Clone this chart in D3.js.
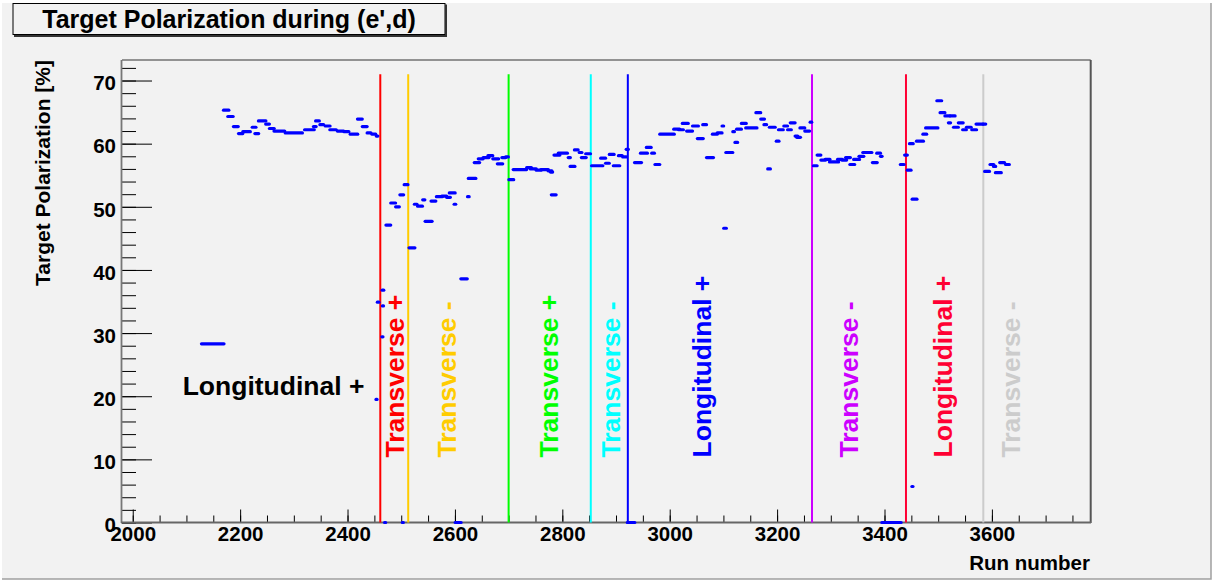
<!DOCTYPE html>
<html>
<head>
<meta charset="utf-8">
<script src="https://cdn.jsdelivr.net/npm/d3@7"></script>
<style>
  body { margin: 0; background: #ffffff; }
  svg { display: block; font-family: "Liberation Sans", Arial, sans-serif; font-weight: bold; }
</style>
</head>
<body>
<div id="chart"></div>
<script>
// run numbers (centre of each measurement), polarization [%] and run span covered
const runs = [
  2149,
  2174, 2182, 2192, 2201, 2212, 2226, 2231, 2241, 2251, 2259, 2273, 2300, 2329, 2339, 2344,
  2352, 2363, 2373, 2387, 2398, 2412, 2423, 2432, 2440, 2449, 2455,
  2466, 2457, 2466, 2465, 2454, 2470, 2503,
  2476, 2485, 2493, 2501, 2509, 2520, 2527, 2535, 2542, 2551, 2560, 2571, 2580, 2588, 2595,
  2600, 2606, 2617, 2625, 2632, 2641, 2648, 2658, 2666, 2676, 2684, 2691, 2697,
  2705, 2721, 2738, 2746, 2756, 2767, 2777, 2780, 2784, 2790, 2801, 2813, 2819, 2826, 2834,
  2840, 2848, 2865, 2876, 2884, 2892, 2901, 2908, 2916, 2921, 2928,
  2941, 2952, 2961, 2969, 2977, 2995, 3013, 3021, 3029, 3037, 3048, 3057, 3065, 3075, 3084,
  3093, 3099, 3103, 3111, 3119, 3124, 3129, 3138, 3152, 3165, 3173, 3178, 3185, 3191, 3201,
  3207, 3216, 3223, 3229, 3236, 3240, 3247, 3256, 3263,
  3271, 3278, 3286, 3294, 3306, 3317, 3325, 3332, 3340, 3348, 3357, 3368, 3382, 3389, 3394,
  3413, 3433, 3440, 3446, 3450, 3452, 3456, 3466, 3475, 3488, 3502, 3508, 3517, 3521, 3527,
  3533, 3542, 3549, 3557, 3567, 3577, 3586,
  3591, 3600, 3605, 3612, 3619, 3629
];
const pols = [
  28.3,
  65.3, 64.3, 62.7, 61.6, 61.9, 62.6, 61.6, 63.6, 63.1, 62.4, 62.0, 61.7, 62.2, 62.7, 63.6,
  63.0, 62.8, 62.2, 62.0, 61.9, 61.5, 63.9, 62.7, 61.7, 61.5, 61.2,
  36.8, 34.9, 34.3, 29.4, 19.5, 0, 0,
  47.1, 50.6, 50.0, 51.9, 53.5, 43.5, 50.4, 50.1, 51.1, 47.7, 50.9, 51.6, 51.7, 51.5, 52.2,
  50.4, 0, 38.6, 51.6, 54.5, 57.0, 57.6, 57.8, 58.1, 57.6, 56.8, 57.8, 57.9,
  54.3, 55.9, 56.2, 56.0, 55.8, 55.9, 55.7, 55.5, 51.9, 58.2, 58.5, 57.8, 56.4, 59.0, 58.6,
  57.8, 58.4, 56.5, 57.7, 56.9, 58.3, 56.5, 58.1, 57.9, 59.1, 0,
  57.0, 58.5, 59.4, 58.5, 56.7, 61.5, 62.3, 62.2, 63.2, 62.0, 62.8, 60.8, 63.0, 57.8, 61.5,
  61.7, 62.8, 46.6, 58.6, 61.9, 60.2, 62.3, 63.2, 62.5, 64.9, 63.9, 63.0, 56.0, 62.6, 60.4,
  62.2, 62.8, 62.2, 63.3, 61.2, 61.0, 62.5, 62.0, 63.4,
  56.5, 58.2, 57.4, 57.5, 57.1, 57.5, 57.4, 57.8, 56.7, 57.5, 58.0, 58.6, 57.0, 58.5, 58.0,
  0, 56.7, 58.2, 55.8, 60.0, 5.7, 51.2, 60.4, 61.5, 62.5, 66.8, 64.9, 64.4, 63.3, 64.4,
  62.6, 63.3, 62.2, 62.6, 62.2, 63.1, 63.1,
  55.6, 56.7, 56.4, 55.4, 57.0, 56.7
];
const spans = [
  42,
  10, 10, 9, 8, 14, 7, 7, 14, 7, 9, 20, 32, 18, 5, 7,
  7, 9, 12, 12, 9, 14, 9, 9, 7, 7, 3,
  3, 3, 2, 2, 2, 2, 2,
  9, 9, 7, 7, 7, 11, 5, 9, 4, 13, 9, 11, 9, 7, 11,
  3, 11, 12, 3, 14, 10, 9, 11, 9, 11, 10, 7, 5,
  9, 25, 9, 11, 9, 14, 7, 4, 9, 11, 17, 4, 9, 7, 5,
  9, 9, 21, 9, 7, 9, 12, 7, 7, 4, 14,
  13, 13, 9, 5, 9, 27, 11, 9, 11, 11, 11, 11, 7, 13, 9,
  9, 3, 5, 13, 3, 5, 9, 9, 21, 9, 7, 5, 5, 11, 5,
  9, 7, 7, 9, 5, 7, 9, 9, 3,
  7, 7, 9, 9, 17, 9, 9, 9, 9, 11, 9, 17, 9, 7, 3,
  36, 7, 5, 7, 7, 2, 9, 13, 7, 23, 9, 9, 9, 4, 9,
  9, 9, 7, 9, 9, 13, 5,
  9, 7, 4, 11, 9, 7
];

// vertical lines marking changes of target spin orientation
const changeRuns = [2461, 2513, 2700, 2853, 2922, 3265, 3440, 3584];
const changeColors = ["#ff0000", "#ffcc00", "#00ff00", "#00ffff", "#0000ff", "#cc00ff", "#ff0033", "#cccccc"];

// rotated labels
const labelTexts = ["Transverse +", "Transverse -", "Transverse +", "Transverse -", "Longitudinal +", "Transverse -", "Longitudinal +", "Transverse -"];
const labelRuns = [2505, 2602, 2792, 2908, 3076, 3351, 3525, 3652];
const labelColors = ["#ff0000", "#ffcc00", "#00ff00", "#00ffff", "#0000ff", "#cc00ff", "#ff0033", "#cccccc"];

const xMajorTicks = [2000, 2200, 2400, 2600, 2800, 3000, 3200, 3400, 3600];
const yMajorTicks = [0, 10, 20, 30, 40, 50, 60, 70];

const W = 1217, H = 580;
const svg = d3.select("#chart").append("svg")
    .attr("width", W)
    .attr("height", H);

// canvas
svg.append("rect").attr("x", 2).attr("y", 3).attr("width", 1209).attr("height", 576)
    .attr("fill", "#f2f2f2");
svg.append("path").attr("d", "M1211,3 V579 H2").attr("fill", "none")
    .attr("stroke", "#a0a0a0").attr("stroke-width", 1.5);

// title box
svg.append("rect").attr("x", 13).attr("y", 3.5).attr("width", 432).attr("height", 31)
    .attr("fill", "#f2f2f2").attr("stroke", "#000").attr("stroke-width", 1);
svg.append("path").attr("d", "M446,4.5 V36 H14").attr("fill", "none")
    .attr("stroke", "#333").attr("stroke-width", 2);
svg.append("text").attr("x", 229).attr("y", 28).attr("text-anchor", "middle")
    .attr("font-size", 25).text("Target Polarization during (e',d)");

const x = d3.scaleLinear().domain([1980, 3784]).range([122, 1090.7]);
const y = d3.scaleLinear().domain([0, 73.25]).range([522.5, 60]);

// axes
const xMinor = d3.range(2000, 3784, 50);
svg.append("g").attr("transform", "translate(0,522.5)")
    .call(d3.axisBottom(x).tickValues(xMinor).tickSize(-7).tickFormat(""))
    .call(g => g.select(".domain").remove());
svg.append("g").attr("transform", "translate(0,522.5)")
    .call(d3.axisBottom(x).tickValues(xMajorTicks).tickSize(-13).tickPadding(4).tickFormat(d3.format("d")))
    .call(g => g.select(".domain").remove())
    .call(g => g.selectAll("text").attr("font-size", 20.5).attr("font-family", null).attr("fill", "#000"));

const yMinor = d3.range(0, 73.25, 2);
svg.append("g").attr("transform", "translate(122,0)")
    .call(d3.axisLeft(y).tickValues(yMinor).tickSize(-14).tickFormat(""))
    .call(g => g.select(".domain").remove());
svg.append("g").attr("transform", "translate(122,0)")
    .call(d3.axisLeft(y).tickValues(yMajorTicks).tickSize(-30).tickPadding(6))
    .call(g => g.select(".domain").remove())
    .call(g => g.selectAll("text").attr("font-size", 20.5).attr("font-family", null)
        .attr("fill", "#000").attr("dy", "0.45em"));

// frame
svg.append("line").attr("x1", 122).attr("x2", 1090.7).attr("y1", 60).attr("y2", 60)
    .attr("stroke", "#333").attr("stroke-width", 1);
svg.append("line").attr("x1", 1090.7).attr("x2", 1090.7).attr("y1", 60).attr("y2", 523)
    .attr("stroke", "#555").attr("stroke-width", 2);
svg.append("line").attr("x1", 121.5).attr("x2", 121.5).attr("y1", 60).attr("y2", 523)
    .attr("stroke", "#777").attr("stroke-width", 1.8);
svg.append("line").attr("x1", 121).attr("x2", 1091).attr("y1", 522.5).attr("y2", 522.5)
    .attr("stroke", "#666").attr("stroke-width", 1.8);

// axis titles
svg.append("text").attr("x", 1090).attr("y", 570).attr("text-anchor", "end")
    .attr("font-size", 20.5).text("Run number");
svg.append("text").attr("transform", "translate(50,60) rotate(-90)").attr("text-anchor", "end")
    .attr("font-size", 21).text("Target Polarization [%]");

// spin change lines
svg.selectAll(".change").data(changeRuns).join("line")
    .attr("class", "change")
    .attr("x1", d => x(d)).attr("x2", d => x(d))
    .attr("y1", y(71)).attr("y2", y(0))
    .attr("stroke", (d, i) => changeColors[i])
    .attr("stroke-width", 2);

// rotated labels
svg.selectAll(".lab").data(labelTexts).join("text")
    .attr("class", "lab")
    .attr("transform", (d, i) => `translate(${x(labelRuns[i])},${y(10.3)}) rotate(-90)`)
    .attr("font-size", 26.5)
    .attr("fill", (d, i) => labelColors[i])
    .text(d => d);

svg.append("text").attr("x", x(2093)).attr("y", y(20.2))
    .attr("font-size", 26.5).attr("fill", "#000").text("Longitudinal +");

// measurements
svg.selectAll(".pt").data(runs).join("line")
    .attr("class", "pt")
    .attr("x1", (d, i) => x(d - spans[i] / 2))
    .attr("x2", (d, i) => x(d + spans[i] / 2))
    .attr("y1", (d, i) => y(pols[i]))
    .attr("y2", (d, i) => y(pols[i]))
    .attr("stroke", "#0000ff")
    .attr("stroke-width", 3.2)
    .attr("stroke-linecap", "round");
</script>
</body>
</html>
